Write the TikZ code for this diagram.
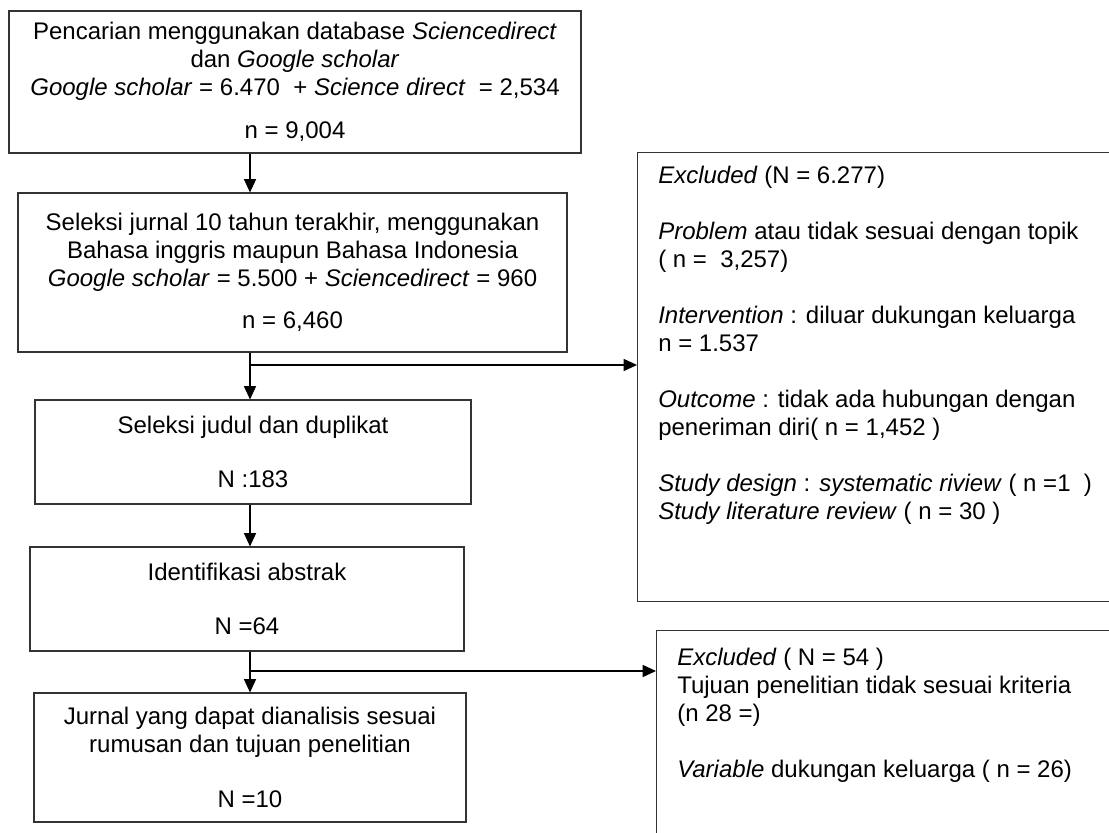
\documentclass[tikz,border=0pt]{standalone}
\usepackage{fontspec}
\setmainfont{Liberation Sans}
\usetikzlibrary{arrows.meta, positioning}
\tikzstyle{stage} = [rectangle, draw=black!80, line width=0.8pt, align=center, inner sep=0pt, font=\fontsize{18}{21}\selectfont]
\tikzstyle{excl} = [rectangle, draw=black!80, line width=0.8pt, anchor=north west]
\tikzstyle{excltext} = [anchor=north west, align=left, inner sep=0pt, font=\fontsize{18}{21}\selectfont]
\tikzstyle{arrow} = [line width=1.1pt, -{Triangle[length=10pt, width=9pt]}]

\begin{document}
\begin{tikzpicture}[x=0.75pt, y=-0.75pt]
\useasboundingbox (0,0) rectangle (1109,832);
\clip (0,0) rectangle (1109,832);

\node (search) [stage, minimum width=429pt, minimum height=106.5pt] at (295,82)
  {Pencarian menggunakan database \textit{Sciencedirect}\\
   dan \textit{Google scholar}\\
   \textit{Google scholar} = 6.470~ + \textit{Science direct}~ = 2,534\\[11pt]
   n = 9,004};
\node (filter) [stage, minimum width=411.75pt, minimum height=119.25pt] at (292.5,272.5)
  {Seleksi jurnal 10 tahun terakhir, menggunakan\\
   Bahasa inggris maupun Bahasa Indonesia\\
   \textit{Google scholar} = 5.500 + \textit{Sciencedirect} = 960\\[11pt]
   n = 6,460};
\node (dedup) [stage, minimum width=327pt, minimum height=78pt] at (253,452)
  {Seleksi judul dan duplikat\\[19pt] N :183};
\node (abstr) [stage, minimum width=325.5pt, minimum height=78pt] at (247,599)
  {Identifikasi abstrak\\[20pt] N =64};
\node (final) [stage, minimum width=324pt, minimum height=96.75pt] at (250,757.5)
  {Jurnal yang dapat dianalisis sesuai\\
   rumusan dan tujuan penelitian\\[20pt]
   N =10};

% excluded boxes, cut off at the right edge
\node (exclA) [excl, minimum width=362pt, minimum height=336.75pt] at (637,152) {};
\node (exclAtext) [excltext] at (658,166)
  {\textit{Excluded} (N = 6.277)\\[21pt]
   \textit{Problem} atau tidak sesuai dengan topik\\
   ( n = ~3,257)\\[21pt]
   \textit{Intervention} : diluar dukungan keluarga\\
   n = 1.537\\[21pt]
   \textit{Outcome} : tidak ada hubungan dengan\\
   peneriman diri( n = 1,452 )\\[21pt]
   \textit{Study design} : \textit{systematic riview} ( n =1~ )\\
   \textit{Study literature review} ( n = 30 )};
\node (exclB) [excl, minimum width=352pt, minimum height=165pt] at (656,630) {};
\node (exclBtext) [excltext] at (677,648)
  {\textit{Excluded} ( N = 54 )\\
   Tujuan penelitian tidak sesuai kriteria\\
   (n 28 =)\\[21pt]
   \textit{Variable} dukungan keluarga ( n = 26)};

\coordinate (spine) at (250,0);
\coordinate (split1) at (250,365);
\coordinate (split2) at (250,671);

\draw [arrow] (search.south -| spine) -- (filter.north -| spine);
\draw [arrow] (filter.south -| spine) -- (dedup.north -| spine);
\draw [arrow] (split1) -- (split1 -| exclA.west);
\draw [arrow] (dedup.south -| spine) -- (abstr.north -| spine);
\draw [arrow] (abstr.south -| spine) -- (final.north -| spine);
\draw [arrow] (split2) -- (split2 -| exclB.west);

\end{tikzpicture}
\end{document}
